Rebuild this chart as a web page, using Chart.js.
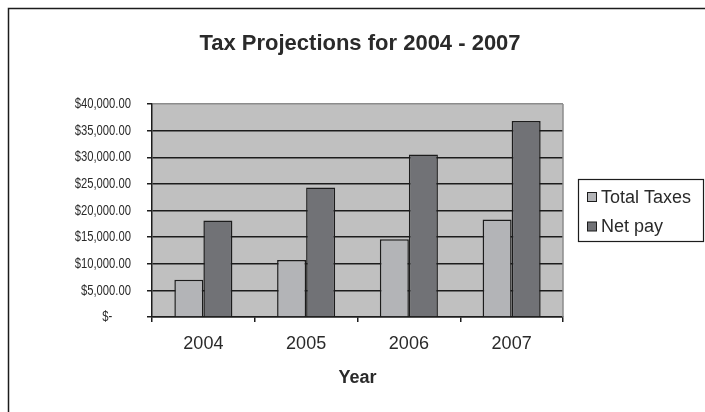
<!DOCTYPE html>
<html>
<head>
<meta charset="utf-8">
<script src="https://cdn.jsdelivr.net/npm/chart.js@4.4.1/dist/chart.umd.min.js"></script>
<style>
  html, body { margin: 0; padding: 0; background: #fff; }
  #wrap { width: 705px; height: 412px; position: relative; }
</style>
</head>
<body>
<div id="wrap"><canvas id="c" width="705" height="412"></canvas></div>
<script>
// values
const years = ['2004', '2005', '2006', '2007'];
const totalTaxes = [7000, 10700, 14600, 18300];
const netPay = [18100, 24300, 30500, 36800];
const yTickLabels = ['$-      ', '$5,000.00', '$10,000.00', '$15,000.00', '$20,000.00',
  '$25,000.00', '$30,000.00', '$35,000.00', '$40,000.00'];

const ink = '#1c1c1c';
const textColor = '#2a2a2a';
const sans = '"Liberation Sans", Arial, sans-serif';

// grey plot area with a lighter edge on the right
const plotArea = {
  id: 'plotArea',
  beforeDraw(chart) {
    const { ctx, chartArea: a } = chart;
    ctx.save();
    ctx.fillStyle = '#c0c0c0';
    ctx.fillRect(a.left, a.top, a.right - a.left, a.bottom - a.top);
    ctx.restore();
  },
  beforeDatasetsDraw(chart) {
    const { ctx, chartArea: a } = chart;
    ctx.save();
    ctx.strokeStyle = '#8c8c8c';
    ctx.lineWidth = 1.5;
    ctx.beginPath();
    ctx.moveTo(a.right, a.top);
    ctx.lineTo(a.right, a.bottom);
    ctx.stroke();
    ctx.restore();
  }
};

// the y labels in the picture are in a squeezed face; draw them narrowed
const narrowYLabels = {
  id: 'narrowYLabels',
  afterDraw(chart) {
    const { ctx } = chart;
    const y = chart.scales.y;
    ctx.save();
    ctx.font = '15px ' + sans;
    ctx.fillStyle = textColor;
    ctx.textAlign = 'right';
    ctx.textBaseline = 'middle';
    y.ticks.forEach((t, i) => {
      const py = y.getPixelForValue(t.value);
      ctx.save();
      ctx.translate(131, py);
      ctx.scale(0.75, 1);
      ctx.fillText(yTickLabels[i], 0, 0);
      ctx.restore();
    });
    ctx.restore();
  }
};

// outer frame: only the top and left edge show inside the picture
const frame = {
  id: 'frame',
  afterDraw(chart) {
    const ctx = chart.ctx;
    ctx.save();
    ctx.strokeStyle = ink;
    ctx.lineWidth = 1.5;
    ctx.strokeRect(8.5, 8.5, 720, 420);
    ctx.restore();
  }
};

// boxed legend to the right of the plot
const boxLegend = {
  id: 'boxLegend',
  afterDraw(chart) {
    const ctx = chart.ctx;
    const x = 578.5, y = 179.5, w = 125, h = 62;
    ctx.save();
    ctx.fillStyle = '#fff';
    ctx.fillRect(x, y, w, h);
    ctx.strokeStyle = ink;
    ctx.lineWidth = 1.2;
    ctx.strokeRect(x, y, w, h);
    ctx.font = '18px ' + sans;
    ctx.textBaseline = 'middle';
    chart.data.datasets.forEach((ds, i) => {
      const cy = 197 + i * 29.5;
      ctx.fillStyle = ds.backgroundColor;
      ctx.fillRect(587.5, cy - 4.5, 9, 9);
      ctx.strokeStyle = ink;
      ctx.lineWidth = 1;
      ctx.strokeRect(587.5, cy - 4.5, 9, 9);
      ctx.fillStyle = textColor;
      ctx.fillText(ds.label, 601, cy + 1);
    });
    ctx.restore();
  }
};

new Chart(document.getElementById('c'), {
  type: 'bar',
  data: {
    labels: years,
    datasets: [
      { label: 'Total Taxes', data: totalTaxes, backgroundColor: '#b3b4b7',
        borderColor: ink, borderWidth: 1.5 },
      { label: 'Net pay', data: netPay, backgroundColor: '#717276',
        borderColor: ink, borderWidth: 1.5 }
    ]
  },
  options: {
    responsive: false,
    animation: false,
    layout: { padding: { left: 15, right: 0, top: 10, bottom: 0 } },
    datasets: { bar: { categoryPercentage: 0.565, barPercentage: 1.0 } },
    plugins: {
      legend: { display: false },
      tooltip: { enabled: false },
      title: {
        display: true,
        text: 'Tax Projections for 2004 - 2007',
        color: textColor,
        font: { family: sans, size: 22, weight: 'bold' },
        padding: { top: 20.8, bottom: 46.8 }
      }
    },
    scales: {
      x: {
        afterFit(scale) { scale.height = 95; },
        grid: { display: true, drawOnChartArea: false, drawTicks: true, tickLength: 5,
          color: ink, lineWidth: 1.5, offset: true },
        border: { color: ink, width: 1.5 },
        ticks: { color: textColor, padding: 11, font: { family: sans, size: 18 } },
        title: { display: true, text: 'Year', color: textColor,
          font: { family: sans, size: 18, weight: 'bold' },
          padding: { top: 0, bottom: 23 } }
      },
      y: {
        min: 0, max: 40000,
        afterFit(scale) { scale.width = 137; },
        grid: {
          color: (c) => (c.tick && c.tick.value === 40000 ? '#8c8c8c' : ink),
          tickColor: ink, lineWidth: 1.5, tickLength: 5
        },
        border: { color: ink, width: 1.5 },
        ticks: { stepSize: 5000, display: false }
      },
      // empty right-hand axis that keeps room for the legend box
      side: {
        position: 'right', min: 0, max: 1,
        afterFit(scale) { scale.width = 142; },
        grid: { display: false },
        border: { display: false },
        ticks: { display: false }
      }
    }
  },
  plugins: [plotArea, narrowYLabels, frame, boxLegend]
});
</script>
</body>
</html>
